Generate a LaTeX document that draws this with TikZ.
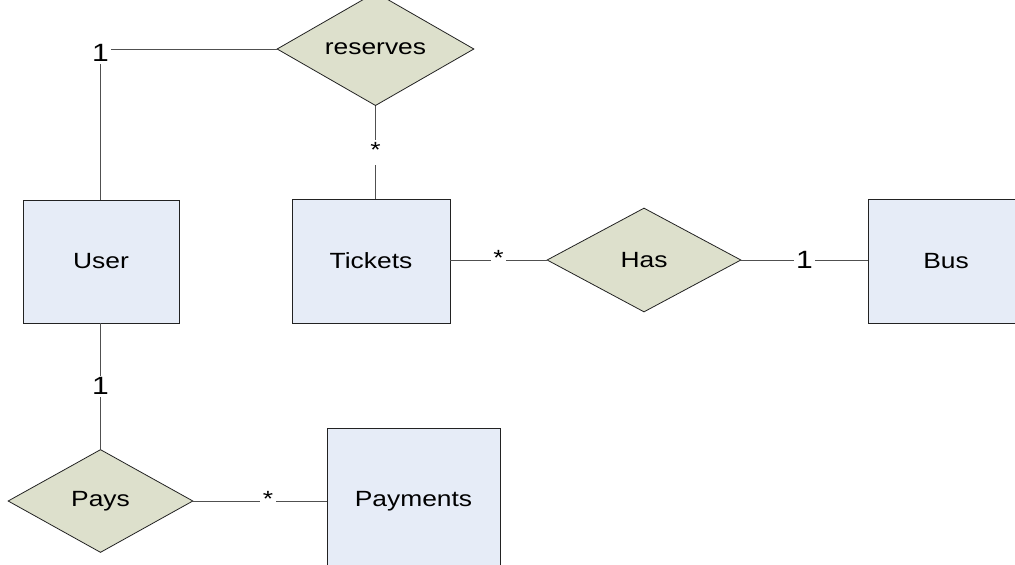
\documentclass[tikz,border=0pt]{standalone}
\usepackage{graphicx}
\usepackage{fontspec}
\setmainfont{Liberation Sans}
\usetikzlibrary{shapes.geometric}

\definecolor{entityfill}{HTML}{E6ECF7}
\definecolor{relfill}{HTML}{DDE0CC}
\definecolor{edgegray}{HTML}{505050}
\definecolor{framegray}{HTML}{222222}

% horizontally widened text, as the labels are set
\newcommand{\wide}[1]{\scalebox{1.2}[1]{#1}}

\tikzset{
  entity/.style={draw=framegray, line width=0.9pt, fill=entityfill,
    rectangle, inner sep=0pt, font=\fontsize{22}{25}\selectfont},
  relation/.style={draw=framegray, line width=0.8pt, fill=relfill,
    diamond, inner sep=0pt, font=\fontsize{22}{25}\selectfont},
  link/.style={draw=edgegray, line width=0.9pt},
  card/.style={fill=white, inner sep=2pt, font=\fontsize{25}{28}\selectfont},
  many/.style={fill=white, inner sep=2.5pt, text height=15pt, text depth=5pt,
    font=\fontsize{22}{25}\selectfont}
}

\begin{document}
\begin{tikzpicture}[x=1pt, y=-1pt]
  \useasboundingbox (0,0) rectangle (1015,565);
  \clip (0,0) rectangle (1015,565);

  % entities
  \node[entity, minimum width=156pt, minimum height=123pt] (user) at (101,261.5) {\wide{User}};
  \node[entity, minimum width=158pt, minimum height=124pt] (tickets) at (371,261) {\wide{Tickets}};
  \node[entity, minimum width=156pt, minimum height=124pt] (bus) at (946,261) {\wide{Bus}};
  \node[entity, minimum width=173pt, minimum height=146pt] (payments) at (413.5,501) {\wide{Payments}};

  % relationships
  \node[relation, minimum width=197pt, minimum height=83pt] (reserves) at (375.5,49) {\wide{reserves}};
  \node[relation, minimum width=194pt, minimum height=104pt] (has) at (644,260) {\wide{Has}};
  \node[relation, minimum width=185pt, minimum height=103pt] (pays) at (100.5,501) {\wide{Pays}};

  % connectors with cardinalities
  \path[link] (user.north -| pays.north) |- (reserves.west)
    node[card, pos=0.5, yshift=-4pt] (c1) {\wide{1}};
  \path[link] (reserves.south) -- (reserves.south |- tickets.north)
    node[many, midway] (c2) {\wide{*}};
  \path[link] (has.west -| tickets.east) -- (has.west)
    node[many, midway] (c3) {\wide{*}};
  \path[link] (has.east) -- (has.east -| bus.west)
    node[card, midway] (c4) {\wide{1}};
  \path[link] (user.south -| pays.north) -- (pays.north)
    node[card, midway] (c5) {\wide{1}};
  \path[link] (pays.east) -- (pays.east -| payments.west)
    node[many, pos=0.56] (c6) {\wide{*}};
\end{tikzpicture}
\end{document}
